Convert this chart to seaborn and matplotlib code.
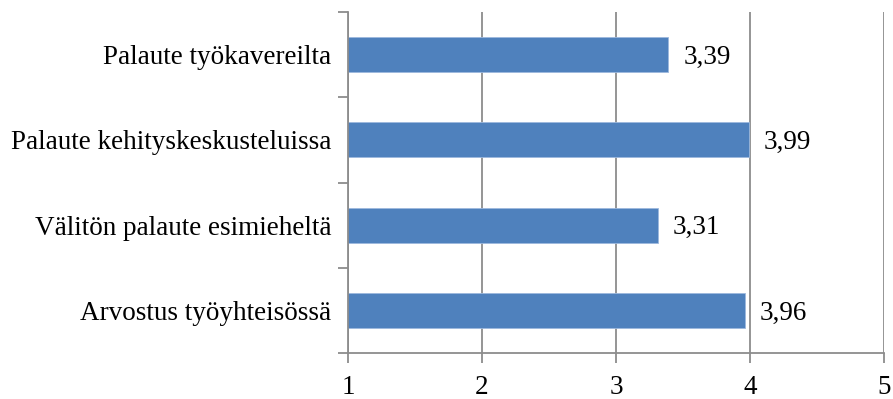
import matplotlib
matplotlib.use("Agg")
import matplotlib.pyplot as plt
import seaborn as sns
import pandas as pd

categories = [
    "Palaute työkavereilta",
    "Palaute kehityskeskusteluissa",
    "Välitön palaute esimieheltä",
    "Arvostus työyhteisössä",
]
values = [3.39, 3.99, 3.31, 3.96]
x_ticks = [1, 2, 3, 4, 5]

df = pd.DataFrame({"category": categories, "value": values})

sns.set_style("white")
plt.rcParams["font.family"] = ["Liberation Serif", "DejaVu Serif"]
plt.rcParams["text.color"] = "black"
plt.rcParams["xtick.labelcolor"] = "black"
plt.rcParams["ytick.labelcolor"] = "black"
fs = 19.5

fig = plt.figure(figsize=(8.93, 3.99), dpi=100)
ax = fig.add_axes([348 / 893, 46 / 399, 536 / 893, 341 / 399])

sns.barplot(data=df, x="value", y="category", orient="h", color="#4F81BD",
            saturation=1, width=0.41, edgecolor="#9DB9DE", linewidth=0.6, ax=ax)

ax.set_xlim(1, 5)
ax.set_ylim(len(categories) - 0.5, -0.5)
ax.set_xticks(x_ticks)
ax.set_xticklabels([str(t) for t in x_ticks], fontsize=fs)
ax.xaxis.grid(True, color="#8C8C8C", linewidth=1.3)
ax.set_axisbelow(True)

# category ticks sit between the bars, labels in the middle
ax.set_yticks([i - 0.5 for i in range(len(categories) + 1)])
ax.set_yticklabels([])
ax.set_yticks(range(len(categories)), minor=True)
ax.set_yticklabels(categories, minor=True, fontsize=fs)
ax.tick_params(axis="y", which="major", left=True, length=7, width=1.3,
               color="#8C8C8C", direction="out")
ax.tick_params(axis="y", which="minor", left=True, length=0, pad=12,
               labelcolor="black")
ax.tick_params(axis="x", bottom=True, length=7, width=1.3, color="#8C8C8C",
               direction="out", pad=9, labelcolor="black")

for s in ["top", "right"]:
    ax.spines[s].set_visible(False)
for s in ["left", "bottom"]:
    ax.spines[s].set_color("#8C8C8C")
    ax.spines[s].set_linewidth(1.3)

ax.set_xlabel("")
ax.set_ylabel("")

for i, v in enumerate(values):
    ax.annotate(f"{v:.2f}".replace(".", ","), (v, i), xytext=(11, -2),
                textcoords="offset points", va="center", ha="left",
                fontsize=fs, color="black")

fig.savefig("out.png", dpi=100)
